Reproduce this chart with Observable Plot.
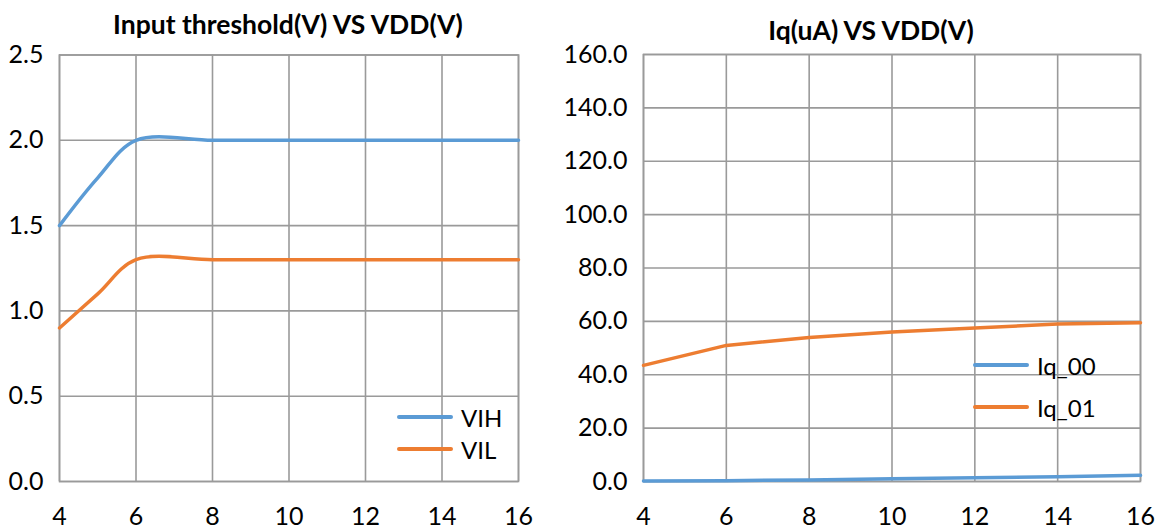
<!DOCTYPE html>
<html>
<head>
<meta charset="utf-8">
<script src="https://cdn.jsdelivr.net/npm/d3@7"></script>
<script src="https://cdn.jsdelivr.net/npm/@observablehq/plot@0.6"></script>
<style>
  html, body { margin: 0; padding: 0; background: #fff; }
  body { width: 1161px; height: 532px; position: relative; overflow: hidden; font-family: Lato, "Liberation Sans", sans-serif; }
  .panel { position: absolute; top: 40px; }
  .title { position: absolute; font-weight: bold; font-size: 26.5px; line-height: 30px; color: #000; text-align: center; white-space: nowrap; }
  .legend { position: absolute; font-size: 24px; color: #000; }
  .legend .row { display: flex; align-items: center; }
  .legend .sw { display: inline-block; width: 56px; height: 4px; margin-right: 8px; border-radius: 2px; }
</style>
</head>
<body>
<div class="title" id="t1" style="left:0; width:576px; top:9px;"></div>
<div class="title" id="t2" style="left:560px; width:622px; top:15px;"></div>
<div class="panel" id="p1" style="left:0;"></div>
<div class="panel" id="p2" style="left:560px;"></div>
<div class="legend" id="l1" style="left:397px; top:401px;"></div>
<div class="legend" id="l2" style="left:973px; top:344px;"></div>
<script>
// ---- data ----
const vdd = [4, 5, 6, 8, 10, 12, 14, 16];
const vih = [1.5, 1.78, 2.0, 2.0, 2.0, 2.0, 2.0, 2.0];
const vil = [0.9, 1.1, 1.3, 1.3, 1.3, 1.3, 1.3, 1.3];

const vddIq = [4, 6, 8, 10, 12, 14, 16];
const iq00 = [0.2, 0.3, 0.6, 1.0, 1.4, 1.8, 2.3];
const iq01 = [43.5, 51.0, 54.0, 56.0, 57.5, 59.0, 59.5];

const title1 = "Input threshold(V) VS VDD(V)";
const title2 = "Iq(uA) VS VDD(V)";
const xTicks = [4, 6, 8, 10, 12, 14, 16];
const yTicks1 = [0, 0.5, 1.0, 1.5, 2.0, 2.5];
const yTicks2 = [0, 20, 40, 60, 80, 100, 120, 140, 160];
const series1 = ["VIH", "VIL"];
const series2 = ["Iq_00", "Iq_01"];
const colors = ["#5B9BD5", "#ED7D31"];

// ---- build ----
const grid = "#9a9a9a";
function chart(opts) {
  const { width, height, marginLeft, marginRight, marginTop, marginBottom, yDomain, yTicks, xs, ys, names, curve } = opts;
  const rows = [];
  names.forEach((n, i) => xs.forEach((x, j) => rows.push({ s: n, x, y: ys[i][j] })));
  return Plot.plot({
    width, height, marginLeft, marginRight, marginTop, marginBottom,
    style: { fontFamily: "Lato, 'Liberation Sans', sans-serif", fontSize: "25px", color: "#000", background: "transparent", overflow: "visible" },
    x: { domain: [4, 16], label: null },
    y: { domain: yDomain, label: null },
    color: { domain: names, range: colors },
    marks: [
      Plot.gridX(xTicks, { stroke: grid, strokeOpacity: 1, strokeWidth: 1.6 }),
      Plot.gridY(yTicks, { stroke: grid, strokeOpacity: 1, strokeWidth: 1.6 }),
      Plot.frame({ stroke: grid, strokeWidth: 1.6 }),
      Plot.line(rows, { x: "x", y: "y", z: "s", stroke: "s", strokeWidth: 3.5, curve }),
      Plot.axisX({ ticks: xTicks, tickSize: 0, tickPadding: 26, fontSize: 25 }),
      Plot.axisY({ ticks: yTicks, tickSize: 0, tickPadding: 16, tickFormat: d3.format(".1f"), fontSize: 25 })
    ]
  });
}

document.getElementById("p1").append(chart({
  width: 560, height: 492, marginLeft: 59, marginRight: 42, marginTop: 14.5, marginBottom: 51,
  yDomain: [0, 2.5], yTicks: yTicks1, xs: vdd, ys: [vih, vil], names: series1, curve: "catmull-rom"
}));
document.getElementById("p2").append(chart({
  width: 601, height: 492, marginLeft: 83, marginRight: 21, marginTop: 14, marginBottom: 51,
  yDomain: [0, 160], yTicks: yTicks2, xs: vddIq, ys: [iq00, iq01], names: series2, curve: "linear"
}));

document.getElementById("t1").textContent = title1;
document.getElementById("t2").textContent = title2;
function legend(id, names, rowH) {
  const el = document.getElementById(id);
  names.forEach((n, i) => {
    const r = document.createElement("div"); r.className = "row"; r.style.height = rowH + "px";
    const sw = document.createElement("span"); sw.className = "sw"; sw.style.background = colors[i];
    const t = document.createElement("span"); t.textContent = n;
    r.append(sw, t); el.append(r);
  });
}
legend("l1", series1, 32);
legend("l2", series2, 42);
</script>
</body>
</html>
